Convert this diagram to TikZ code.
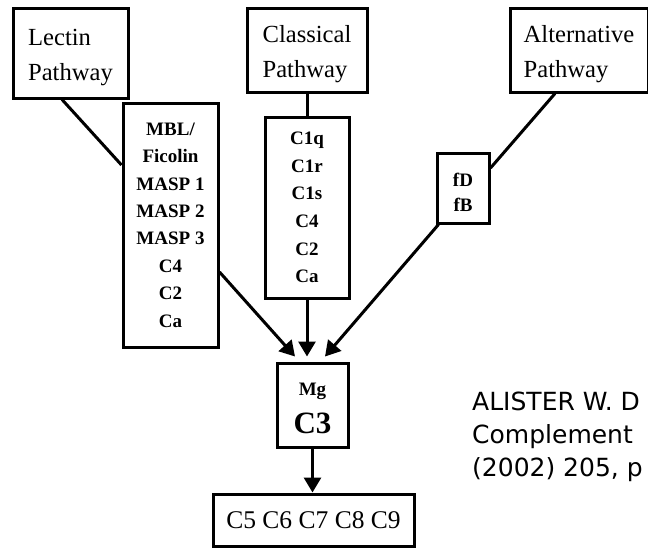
\documentclass[tikz,border=0pt]{standalone}
\usepackage{fontspec}
\setmainfont{Liberation Serif}
\newfontfamily\citefont{DejaVu Sans}
\usetikzlibrary{arrows.meta}
\tikzset{
  box/.style={draw, line width=3pt, inner sep=0pt},
  pathbox/.style={box, align=left, text height=61pt, font=\fontsize{24.6pt}{35pt}\selectfont},
  listbox/.style={box, align=center, font=\bfseries\fontsize{19pt}{27.4pt}\selectfont},
  link/.style={line width=3pt},
  feed/.style={line width=3pt, -{Triangle[length=15pt,width=17pt]}},
}
\begin{document}
\begin{tikzpicture}[x=1pt, y=-1pt]
\useasboundingbox[fill=white] (0,0) rectangle (648,550);
\clip (0,0) rectangle (648,550);

% pathways
\node[pathbox, minimum width=115pt, minimum height=90pt] (lectin) at (70.5,53) {Lectin\\Pathway};
\node[pathbox, minimum width=120pt, minimum height=84pt] (classical) at (307,50) {Classical\\Pathway};
\node[pathbox, minimum width=138pt, minimum height=84pt] (alt) at (579,50) {Alternative\\Pathway};

% components
\node[listbox, minimum width=95pt, minimum height=244pt] (mbl) at (170.5,225)
  {MBL/\\Ficolin\\MASP 1\\MASP 2\\MASP 3\\C4\\C2\\Ca};
\node[listbox, minimum width=84pt, minimum height=181pt, font=\bfseries\fontsize{19pt}{27.6pt}\selectfont] (c1) at (307,207.5)
  {C1q\\C1r\\C1s\\C4\\C2\\Ca};
\node[listbox, minimum width=52pt, minimum height=70pt, text height=48pt, font=\bfseries\fontsize{19pt}{25pt}\selectfont] (fdfb) at (463,188) {fD\\fB};
\node[listbox, minimum width=71pt, minimum height=84pt, text height=58pt, font=\bfseries\fontsize{31pt}{37pt}\selectfont] (c3) at (312.5,405)
  {{\fontsize{19pt}{19pt}\selectfont Mg}\\[1pt]C3};
\node[box, minimum width=201pt, minimum height=52pt, font=\fontsize{25.5pt}{30pt}\selectfont] (mac) at (313.5,520) {C5 C6 C7 C8 C9};

\node[font=\citefont\fontsize{25pt}{33pt}\selectfont, align=left, anchor=north west, inner sep=0pt] (cite) at (472,392)
  {ALISTER W. D\\Complement\\(2002) 205, p};

% links
\draw[link] ([xshift=-8.5pt]lectin.south) -- ([yshift=60pt]mbl.west);
\draw[link] (classical.south) -- (c1.north);
\draw[link] ([xshift=-24pt]alt.south) -- ([yshift=20pt]fdfb.east);

\draw[feed] ([yshift=-47pt]mbl.east) -- ([xshift=-17.5pt,yshift=5pt]c3.north);
\draw[feed, shorten >=5pt] (c1.south) -- (c1.south |- c3.north);
\draw[feed] ([xshift=3pt]fdfb.south west) -- ([xshift=12.5pt,yshift=5pt]c3.north);
\draw[feed] (c3.south) -- (c3.south |- mac.north);
\end{tikzpicture}
\end{document}
